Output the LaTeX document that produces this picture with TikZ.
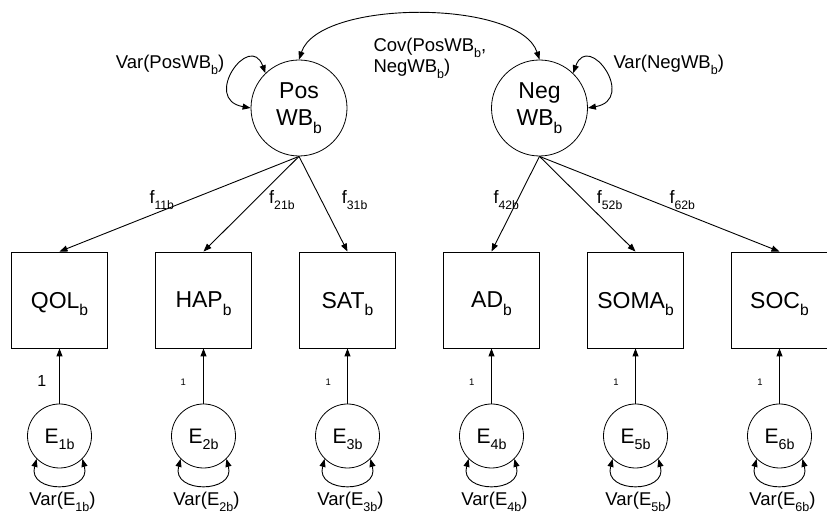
\documentclass[tikz,border=0pt]{standalone}
\usepackage{fontspec}
\setmainfont{Liberation Sans}
\usepackage{graphicx}
\usetikzlibrary{arrows.meta}
\newcommand{\sbs}[1]{\raisebox{-0.32em}{\scalebox{0.68}{#1}}}
\begin{document}
\begin{tikzpicture}[x=1pt,y=1pt,
  lat/.style={circle,draw,line width=0.8pt,minimum size=96pt,inner sep=0pt,align=center,font=\fontsize{23}{27}\selectfont},
  obs/.style={rectangle,draw,line width=0.9pt,minimum size=96pt,inner sep=0pt,text depth=0pt,font=\fontsize{23}{27}\selectfont},
  err/.style={circle,draw,line width=0.8pt,minimum size=64pt,inner sep=0pt,text depth=0pt,font=\fontsize{21}{25}\selectfont},
  lbl/.style={inner sep=0pt,font=\fontsize{18.5}{21}\selectfont},
  flbl/.style={inner sep=0pt,anchor=base west,font=\fontsize{18}{21}\selectfont},
  onesmall/.style={inner sep=0pt,anchor=base,font=\fontsize{9.5}{11}\selectfont},
  onebig/.style={inner sep=0pt,anchor=base,font=\fontsize{16}{18}\selectfont},
  arr/.style={line width=0.9pt,-{Triangle[length=8pt,width=6pt]}},
  dbl/.style={line width=0.9pt,{Triangle[length=8pt,width=6pt]}-{Triangle[length=8pt,width=6pt]}}
]
\useasboundingbox (0,0) rectangle (827,513);

% latent factors
\node[lat] (Pos) at (299,405) {Pos\\WB\sbs{b}};
\node[lat] (Neg) at (539.5,405) {Neg\\WB\sbs{b}};

% observed
\node[obs] (QOL) at (59.5,213) {QOL\sbs{b}};
\node[obs] (HAP) at (203.5,213) {HAP\sbs{b}};
\node[obs] (SAT) at (347.5,213) {SAT\sbs{b}};
\node[obs] (AD) at (491.5,213) {AD\sbs{b}};
\node[obs] (SOMA) at (635.5,213) {SOMA\sbs{b}};
\node[obs] (SOC) at (779.5,213) {SOC\sbs{b}};

% errors
\node[err] (E1) at (59.5,77) {E\sbs{1b}};
\node[err] (E2) at (203.5,77) {E\sbs{2b}};
\node[err] (E3) at (347.5,77) {E\sbs{3b}};
\node[err] (E4) at (491.5,77) {E\sbs{4b}};
\node[err] (E5) at (635.5,77) {E\sbs{5b}};
\node[err] (E6) at (779.5,77) {E\sbs{6b}};

% loadings
\draw[arr] (Pos.south) -- (QOL.north);
\draw[arr] (Pos.south) -- (HAP.north);
\draw[arr] (Pos.south) -- (SAT.north);
\draw[arr] (Neg.south) -- (AD.north);
\draw[arr] (Neg.south) -- (SOMA.north);
\draw[arr] (Neg.south) -- (SOC.north);

% error paths
\draw[arr] (E1.north) -- (QOL.south);
\draw[arr] (E2.north) -- (HAP.south);
\draw[arr] (E3.north) -- (SAT.south);
\draw[arr] (E4.north) -- (AD.south);
\draw[arr] (E5.north) -- (SOMA.south);
\draw[arr] (E6.north) -- (SOC.south);

% error variances
\foreach \e in {E1,E2,E3,E4,E5,E6}{
  \draw[dbl] (\e.-135) .. controls +(-105:36pt) and +(-75:36pt) .. (\e.-45);
}

% factor variances
\draw[dbl] (Pos.134) .. controls +(110:45pt) and +(170:50pt) .. (Pos.180);
\draw[dbl] (Neg.46) .. controls +(70:45pt) and +(10:50pt) .. (Neg.0);

% covariance
\draw[dbl] (Pos.north) .. controls (319,514) and (519.5,514) .. (Neg.north);

% labels
\node[lbl,anchor=base east] (vpos) at (224.5,444.7) {Var(PosWB\sbs{b})};
\node[lbl,anchor=base west] (vneg) at (613.3,444.7) {Var(NegWB\sbs{b})};
\node[lbl,align=left,anchor=base west] (cov) at (373.3,440.3) {Cov(PosWB\sbs{b},\\NegWB\sbs{b})};

\node[flbl] (f11) at (149.3,309.7) {f\sbs{11b}};
\node[flbl] (f21) at (269,309.7) {f\sbs{21b}};
\node[flbl] (f31) at (341.7,309.7) {f\sbs{31b}};
\node[flbl] (f42) at (493.3,309.7) {f\sbs{42b}};
\node[flbl] (f52) at (596.7,309.7) {f\sbs{52b}};
\node[flbl] (f62) at (669.3,309.7) {f\sbs{62b}};

\node[onebig] (o1) at (41.7,126.3) {1};
\node[onesmall] (o2) at (183.3,127) {1};
\node[onesmall] (o3) at (328.3,127) {1};
\node[onesmall] (o4) at (471.7,127) {1};
\node[onesmall] (o5) at (616,127) {1};
\node[onesmall] (o6) at (760,127) {1};

\node[lbl,anchor=base] (ve1) at (62.5,7.8) {Var(E\sbs{1b})};
\node[lbl,anchor=base] (ve2) at (206.5,7.8) {Var(E\sbs{2b})};
\node[lbl,anchor=base] (ve3) at (350.5,7.8) {Var(E\sbs{3b})};
\node[lbl,anchor=base] (ve4) at (494.5,7.8) {Var(E\sbs{4b})};
\node[lbl,anchor=base] (ve5) at (638.5,7.8) {Var(E\sbs{5b})};
\node[lbl,anchor=base] (ve6) at (782.5,7.8) {Var(E\sbs{6b})};
\end{tikzpicture}
\end{document}
